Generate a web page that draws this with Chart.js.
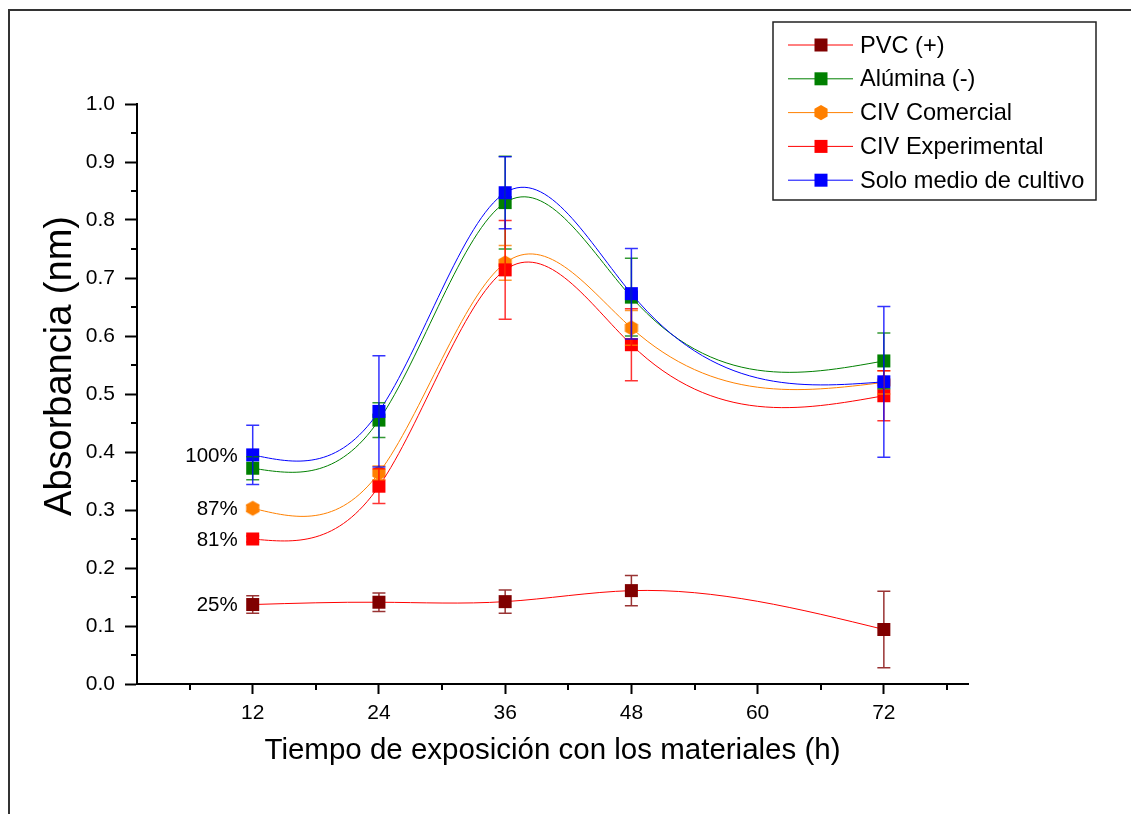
<!DOCTYPE html>
<html>
<head>
<meta charset="utf-8">
<script src="https://cdn.jsdelivr.net/npm/chart.js@4.4.1/dist/chart.umd.min.js"></script>
<style>
  html, body { margin: 0; background: #fff; }
  canvas { display: block; }
</style>
</head>
<body>
<canvas id="absChart" width="1131" height="814"></canvas>
<script>
// --- data ---
const hours = [12, 24, 36, 48, 72];
const xTicks = [12, 24, 36, 48, 60, 72];
const yTicks = [0, 0.1, 0.2, 0.3, 0.4, 0.5, 0.6, 0.7, 0.8, 0.9, 1.0];

const seriesNames = ['PVC (+)', 'Alúmina (-)', 'CIV Comercial', 'CIV Experimental', 'Solo medio de cultivo'];

const pvc = [0.137, 0.141, 0.142, 0.161, 0.094];
const pvcErr = [0.015, 0.016, 0.02, 0.026, 0.066];
const alumina = [0.372, 0.455, 0.830, 0.667, 0.557];
const aluminaErr = [0.02, 0.03, 0.08, 0.067, 0.048];
const comercial = [0.303, 0.364, 0.726, 0.614, 0.520];
const comercialErr = [0.005, 0.012, 0.03, 0.03, 0.02];
const experimental = [0.250, 0.341, 0.714, 0.585, 0.497];
const experimentalErr = [0.005, 0.03, 0.085, 0.062, 0.043];
const soloMedio = [0.395, 0.470, 0.847, 0.673, 0.521];
const soloMedioErr = [0.051, 0.096, 0.062, 0.078, 0.13];

const pctLabels = ['25%', '', '87%', '81%', '100%'];

// --- styles ---
const markerColors = ['#800000', '#008000', '#ff8000', '#ff0000', '#0000ff'];
const lineColors = ['#ff0000', '#008000', '#ff8000', '#ff0000', '#0000ff'];
const FONT = 'Arial, "Liberation Sans", sans-serif';

const allValues = [pvc, alumina, comercial, experimental, soloMedio];
const allErrors = [pvcErr, aluminaErr, comercialErr, experimentalErr, soloMedioErr];

// hexagon marker for CIV Comercial
function hexPath(g, cx, cy, r) {
  g.beginPath();
  for (let k = 0; k < 6; k++) {
    const a = Math.PI / 2 + k * Math.PI / 3;
    const px = cx + r * Math.cos(a), py = cy + r * Math.sin(a);
    k ? g.lineTo(px, py) : g.moveTo(px, py);
  }
  g.closePath();
}
function makeHexagon(color, r) {
  const c = document.createElement('canvas');
  c.width = Math.ceil(r * 2 + 2);
  c.height = Math.ceil(r * 2 + 2);
  const g = c.getContext('2d');
  hexPath(g, c.width / 2, c.height / 2, r);
  g.fillStyle = color;
  g.fill();
  return c;
}
const hexMarker = makeHexagon(markerColors[2], 7.6);

function drawMarker(ctx, i, x, y) {
  ctx.fillStyle = markerColors[i];
  if (i === 2) {
    hexPath(ctx, x, y, 7.6);
    ctx.fill();
  } else {
    ctx.fillRect(x - 6.5, y - 6.5, 13, 13);
  }
}

// natural cubic spline slopes (used to set bezier control points)
function naturalSlopes(xs, ys) {
  const n = xs.length;
  const h = [], d = [];
  for (let i = 0; i < n - 1; i++) {
    h.push(xs[i + 1] - xs[i]);
    d.push((ys[i + 1] - ys[i]) / h[i]);
  }
  const M = new Array(n).fill(0);
  if (n > 2) {
    const a = [], b = [], c = [], r = [];
    for (let i = 1; i < n - 1; i++) {
      a.push(h[i - 1]); b.push(2 * (h[i - 1] + h[i])); c.push(h[i]); r.push(6 * (d[i] - d[i - 1]));
    }
    const m = b.length;
    for (let i = 1; i < m; i++) {
      const w = a[i] / b[i - 1];
      b[i] -= w * c[i - 1];
      r[i] -= w * r[i - 1];
    }
    const sol = new Array(m);
    sol[m - 1] = r[m - 1] / b[m - 1];
    for (let i = m - 2; i >= 0; i--) sol[i] = (r[i] - c[i] * sol[i + 1]) / b[i];
    for (let i = 0; i < m; i++) M[i + 1] = sol[i];
  }
  const s = [];
  for (let i = 0; i < n - 1; i++) s.push(d[i] - h[i] * (2 * M[i] + M[i + 1]) / 6);
  s.push(d[n - 2] + h[n - 2] * (M[n - 2] + 2 * M[n - 1]) / 6);
  return s;
}

const splinePlugin = {
  id: 'naturalSpline',
  beforeDatasetDraw(chart, args) {
    const meta = args.meta;
    const line = meta.dataset;
    if (!line) return;
    line.updateControlPoints(chart.chartArea, meta.iScale.axis);
    const pts = meta.data;
    const xs = pts.map(p => p.x), ys = pts.map(p => p.y);
    const s = naturalSlopes(xs, ys);
    for (let i = 0; i < pts.length; i++) {
      const hPrev = i > 0 ? xs[i] - xs[i - 1] : 0;
      const hNext = i < pts.length - 1 ? xs[i + 1] - xs[i] : 0;
      pts[i].cp1x = xs[i] - hPrev / 3;
      pts[i].cp1y = ys[i] - s[i] * hPrev / 3;
      pts[i].cp2x = xs[i] + hNext / 3;
      pts[i].cp2y = ys[i] + s[i] * hNext / 3;
    }
    line._path = undefined;
  }
};

const errorBars = {
  id: 'errorBars',
  afterDatasetsDraw(chart) {
    const { ctx, scales: { x, y } } = chart;
    ctx.save();
    ctx.lineWidth = 1.5;
    allValues.forEach((vals, i) => {
      ctx.strokeStyle = markerColors[i];
      ctx.globalAlpha = 0.8;
      vals.forEach((v, j) => {
        const px = x.getPixelForValue(hours[j]);
        const top = y.getPixelForValue(v + allErrors[i][j]);
        const bot = y.getPixelForValue(v - allErrors[i][j]);
        ctx.beginPath();
        ctx.moveTo(px, top); ctx.lineTo(px, bot);
        ctx.moveTo(px - 6.5, top); ctx.lineTo(px + 6.5, top);
        ctx.moveTo(px - 6.5, bot); ctx.lineTo(px + 6.5, bot);
        ctx.stroke();
      });
    });
    ctx.restore();

    // percentage notes next to the first point of each series
    ctx.save();
    ctx.font = '20.5px ' + FONT;
    ctx.fillStyle = '#000';
    ctx.textAlign = 'right';
    ctx.textBaseline = 'middle';
    pctLabels.forEach((t, i) => {
      if (!t) return;
      ctx.fillText(t, x.getPixelForValue(hours[0]) - 15, y.getPixelForValue(allValues[i][0]) + 1);
    });
    ctx.restore();
  }
};

const extras = {
  id: 'extras',
  afterDraw(chart) {
    const { ctx, scales: { x, y } } = chart;
    ctx.save();
    // minor ticks
    ctx.strokeStyle = '#000';
    ctx.lineWidth = 2;
    ctx.beginPath();
    for (let i = 0; i < yTicks.length - 1; i++) {
      const py = Math.round(y.getPixelForValue((yTicks[i] + yTicks[i + 1]) / 2));
      ctx.moveTo(x.left - 6, py); ctx.lineTo(x.left, py);
    }
    const step = xTicks[1] - xTicks[0];
    for (let v = xTicks[0] - step / 2; v <= x.max; v += step) {
      if (v < x.min) continue;
      const px = Math.round(x.getPixelForValue(v));
      ctx.moveTo(px, y.bottom); ctx.lineTo(px, y.bottom + 6);
    }
    ctx.stroke();

    // y axis title (sits a little above the axis centre in the original)
    ctx.save();
    ctx.translate(61, 366);
    ctx.rotate(-Math.PI / 2);
    ctx.font = '38px ' + FONT;
    ctx.fillStyle = '#000';
    ctx.textAlign = 'center';
    ctx.textBaseline = 'middle';
    ctx.fillText('Absorbancia (nm)', 0, 0);
    ctx.restore();

    // outer frame
    ctx.strokeStyle = '#333';
    ctx.lineWidth = 2;
    ctx.beginPath();
    ctx.moveTo(9, 814); ctx.lineTo(9, 10); ctx.lineTo(1131, 10);
    ctx.stroke();

    // legend
    const lx = 773, ly = 22, lw = 323, lh = 178;
    ctx.fillStyle = '#fff';
    ctx.fillRect(lx, ly, lw, lh);
    ctx.strokeStyle = '#222';
    ctx.lineWidth = 1.5;
    ctx.strokeRect(lx, ly, lw, lh);
    ctx.font = '23.6px ' + FONT;
    ctx.textBaseline = 'middle';
    ctx.textAlign = 'left';
    seriesNames.forEach((name, i) => {
      const ry = 45 + i * 33.8;
      ctx.strokeStyle = lineColors[i];
      ctx.lineWidth = 1;
      ctx.beginPath();
      ctx.moveTo(788, ry); ctx.lineTo(853, ry);
      ctx.stroke();
      drawMarker(ctx, i, 821, ry);
      ctx.fillStyle = '#000';
      ctx.fillText(name, 860, ry + 1);
    });
    ctx.restore();
  }
};

const datasets = allValues.map((vals, i) => ({
  label: seriesNames[i],
  data: hours.map((h, j) => ({ x: h, y: vals[j] })),
  borderColor: lineColors[i],
  borderWidth: 1,
  backgroundColor: markerColors[i],
  pointBackgroundColor: markerColors[i],
  pointBorderWidth: 0,
  pointStyle: i === 2 ? hexMarker : 'rect',
  pointRadius: 9.2,
  tension: 0.4,
  fill: false,
  order: allValues.length - 1 - i
}));

new Chart(document.getElementById('absChart'), {
  type: 'line',
  data: { datasets },
  plugins: [splinePlugin, errorBars, extras],
  options: {
    responsive: false,
    animation: false,
    layout: { padding: { left: 0, top: 104, right: 163, bottom: 0 } },
    plugins: { legend: { display: false }, tooltip: { enabled: false } },
    scales: {
      x: {
        type: 'linear',
        min: 1,
        max: 80,
        afterBuildTicks: s => { s.ticks = xTicks.map(v => ({ value: v })); },
        afterFit: s => { s.height = 130; },
        ticks: { font: { size: 21, family: FONT }, color: '#000', padding: 7, maxRotation: 0, autoSkip: false },
        grid: { drawOnChartArea: false, tickLength: 10, tickWidth: 2, tickColor: '#000' },
        border: { color: '#000', width: 2 },
        title: {
          display: true,
          text: 'Tiempo de exposición con los materiales (h)',
          font: { size: 29.5, family: FONT },
          color: '#000',
          padding: { top: 0, bottom: 45 }
        }
      },
      y: {
        min: 0,
        max: 1.0,
        afterBuildTicks: s => { s.ticks = yTicks.map(v => ({ value: v })); },
        afterFit: s => { s.width = 137; },
        ticks: { font: { size: 21, family: FONT }, color: '#000', padding: 10, callback: v => v.toFixed(1) },
        grid: { drawOnChartArea: false, tickLength: 12, tickWidth: 2, tickColor: '#000' },
        border: { color: '#000', width: 2 },
        title: { display: false }
      }
    }
  }
});
</script>
</body>
</html>
